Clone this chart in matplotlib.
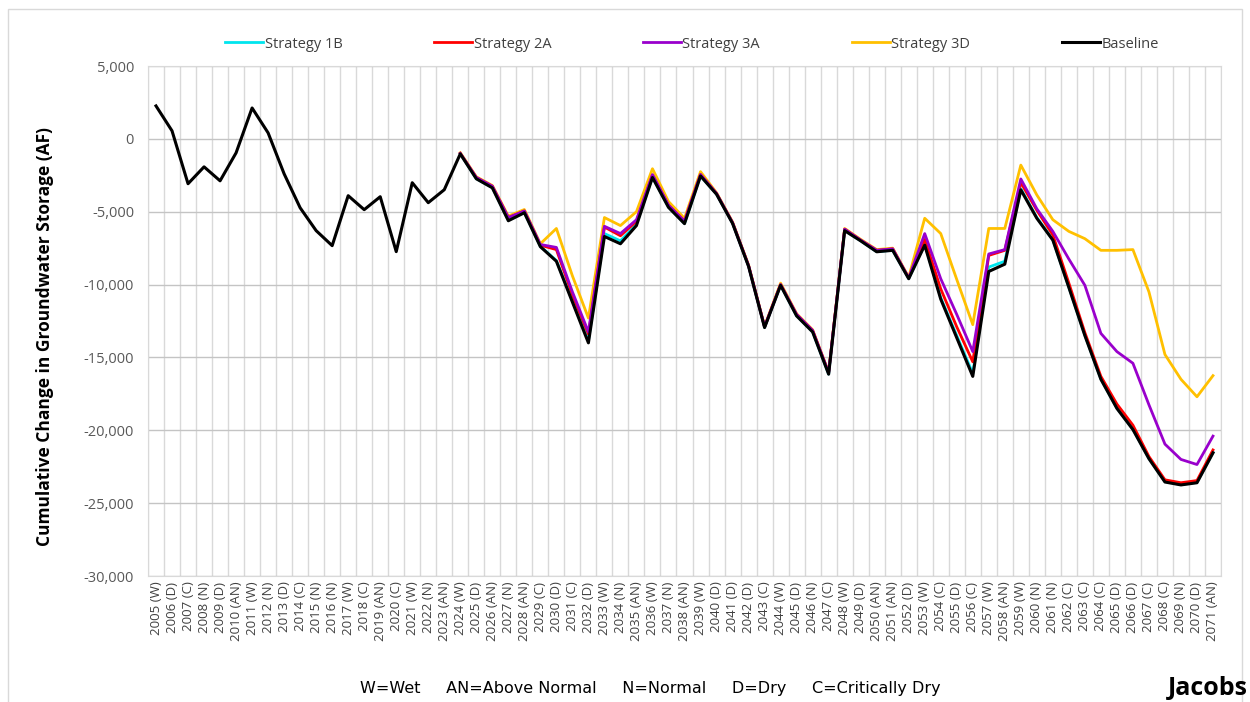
import matplotlib
matplotlib.use("Agg")
import matplotlib.pyplot as plt
import numpy as np

plt.rcParams['font.family'] = ['Open Sans', 'DejaVu Sans']

# water year types 2005-2071
years = list(range(2005, 2072))
year_types = ["W", "D", "C", "N", "D", "AN", "W", "N", "D", "C",
              "N", "N", "W", "C", "AN", "C", "W", "N", "AN", "W",
              "D", "AN", "N", "AN", "C", "D", "C", "D", "W", "N",
              "AN", "W", "N", "AN", "W", "D", "D", "D", "C", "W",
              "D", "N", "C", "W", "D", "AN", "AN", "D", "W", "C",
              "D", "C", "W", "AN", "W", "N", "N", "C", "C", "C",
              "D", "D", "C", "C", "N", "D", "AN"]

baseline = [2260, 550, -3080, -1920, -2880, -960, 2120, 410, -2400, -4730,
            -6300, -7330, -3900, -4860, -3970, -7740, -3010, -4380, -3490, -1030,
            -2740, -3360, -5620, -5070, -7400, -8400, -11200, -14000, -6700, -7200,
            -5950, -2650, -4700, -5820, -2550, -3800, -5800, -8750, -12950, -10050,
            -12150, -13250, -16150, -6300, -7000, -7750, -7650, -9600, -7300, -11000,
            -13650, -16300, -9100, -8600, -3500, -5450, -6950, -10200, -13500, -16500,
            -18500, -19950, -21950, -23550, -23750, -23600, -21550]

# strategies start in 2024
strat_1b = [-1030, -2730, -3340, -5580, -5040, -7380, -8350, -11100, -13850, -6500,
            -7000, -5850, -2620, -4670, -5800, -2540, -3790, -5790, -8740, -12940,
            -10040, -12140, -13240, -16140, -6290, -6990, -7740, -7640, -9590, -7220,
            -10900, -13500, -16100, -8800, -8400, -3420, -5400, -6920, -10170, -13470,
            -16470, -18470, -19920, -21920, -23520, -23720, -23570, -21520]
strat_2a = [-1000, -2650, -3250, -5400, -4950, -7300, -7600, -10700, -13400, -6050,
            -6650, -5650, -2500, -4550, -5650, -2450, -3750, -5750, -8700, -12900,
            -10000, -12050, -13150, -16050, -6200, -6950, -7650, -7550, -9550, -6900,
            -10300, -12900, -15300, -8000, -7650, -3000, -4900, -6600, -9900, -13300,
            -16300, -18200, -19650, -21800, -23400, -23600, -23450, -21350]
strat_3a = [-1000, -2650, -3250, -5400, -4950, -7250, -7450, -10500, -13250, -6000,
            -6500, -5550, -2450, -4550, -5650, -2450, -3750, -5750, -8700, -12900,
            -10000, -12050, -13150, -16050, -6200, -6950, -7650, -7550, -9550, -6500,
            -9600, -12050, -14600, -7900, -7600, -2750, -4800, -6350, -8250, -10050,
            -13350, -14600, -15400, -18250, -20950, -22000, -22350, -20400]
strat_3d = [-950, -2600, -3200, -5300, -4850, -7200, -6150, -9400, -12300, -5400,
            -5950, -5000, -2050, -4300, -5450, -2250, -3700, -5700, -8650, -12850,
            -9900, -12000, -13100, -16000, -6150, -6900, -7600, -7500, -9500, -5450,
            -6500, -9650, -12750, -6150, -6150, -1800, -3850, -5550, -6350, -6850,
            -7650, -7650, -7600, -10500, -14800, -16500, -17700, -16250]

labels = [f"{y} ({t})" for y, t in zip(years, year_types)]
x = np.arange(len(years))
x_s = x[years.index(2024):]

fig = plt.figure(figsize=(12.5, 7.02), dpi=100)
ax = fig.add_axes([148 / 1250, 1 - 576 / 702, 1073 / 1250, 510 / 702])

ax.plot(x_s, strat_1b, color="#00e5ee", lw=2.0, label="Strategy 1B", zorder=3)
ax.plot(x_s, strat_2a, color="#ff0000", lw=2.0, label="Strategy 2A", zorder=4)
ax.plot(x_s, strat_3a, color="#9900cc", lw=2.0, label="Strategy 3A", zorder=5)
ax.plot(x_s, strat_3d, color="#ffc000", lw=2.0, label="Strategy 3D", zorder=2)
ax.plot(x, baseline, color="black", lw=2.2, label="Baseline", zorder=6)

ax.set_xlim(-0.5, len(years) - 0.5)
ax.set_ylim(-30000, 5000)
yt = np.arange(-30000, 5001, 5000)
ax.set_yticks(yt)
ax.set_yticklabels([f"{v:,}" for v in yt], fontsize=10.5, color="#595959")
ax.set_xticks(x)
ax.set_xticklabels(labels, rotation=90, fontsize=9.5, color="#404040")
ax.set_xticks(np.arange(-0.5, len(years), 1.0), minor=True)
ax.tick_params(which="both", length=0)
ax.tick_params(axis="y", pad=10)
ax.tick_params(axis="x", pad=4)

ax.grid(axis="y", which="major", color="#c4c4c4", lw=1.0)
ax.grid(axis="x", which="minor", color="#d9d9d9", lw=1.0)
ax.set_axisbelow(True)
for s in ax.spines.values():
    s.set_color("#d9d9d9")

fig.text(45 / 1250, 1 - 336 / 702, "Cumulative Change in Groundwater Storage (AF)",
         rotation=90, ha="center", va="center", fontsize=12.5, fontweight="bold")

ax.legend(loc="center", bbox_to_anchor=(692 / 1250, 1 - 44 / 702),
          bbox_transform=fig.transFigure, ncol=5, frameon=False,
          fontsize=10.5, handlelength=2.6, handletextpad=0.1, columnspacing=6.3,
          labelcolor="#404040")

fig.text(0.52, 1 - 688 / 702, "W=Wet     AN=Above Normal     N=Normal     D=Dry     C=Critically Dry",
         ha="center", va="center", fontsize=11.5, family="Liberation Sans Narrow")
fig.text(0.998, 1 - 688 / 702, "Jacobs", ha="right", va="center", fontsize=18, fontweight="bold")

# outer chart frame
fig.patches.append(plt.Rectangle((8 / 1250, -0.05), 1234 / 1250, 1.05 - 9 / 702,
                                 transform=fig.transFigure, fill=False,
                                 edgecolor="#d9d9d9", lw=1.0))

fig.savefig("out.png", dpi=100)
